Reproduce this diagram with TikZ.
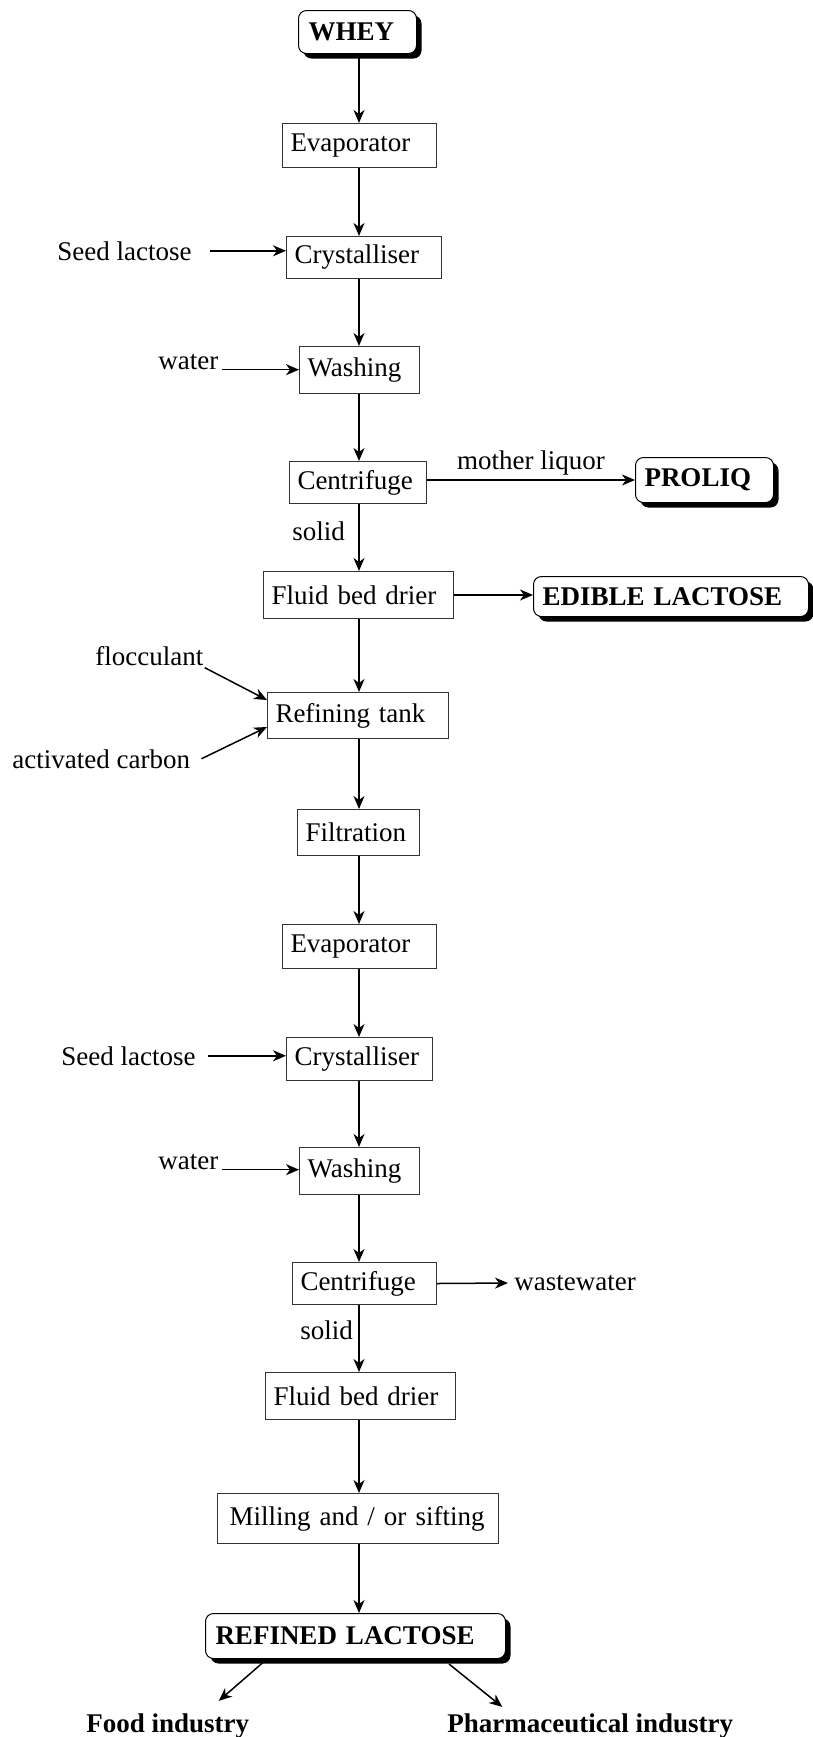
\documentclass[tikz,border=0pt]{standalone}
\usepackage{fontspec}
\setmainfont{Liberation Serif}
\usetikzlibrary{arrows.meta,shadows}
\tikzset{
  procbox/.style={draw=black!80,line width=0.5pt,anchor=north west,inner xsep=4pt,inner ysep=0pt,align=left,text width=#1},
  endbox/.style={draw,line width=0.5pt,rounded corners=4pt,anchor=north west,inner xsep=5pt,inner ysep=0pt,align=left,text width=#1,fill=white,font=\fontsize{13.5}{16}\selectfont\bfseries,
    drop shadow={shadow xshift=2.5pt,shadow yshift=-2.5pt,fill=black,opacity=1}},
  lbl/.style={inner sep=0pt,anchor=base west},
  flow/.style={line width=0.75pt,-{Stealth[length=6.5pt,width=5.5pt,inset=2pt]}}
}
\begin{document}
\begin{tikzpicture}[x=0.5pt,y=-0.5pt,font=\fontsize{13.5}{16}\selectfont]
\useasboundingbox (0,0) rectangle (813,1737);
\coordinate (col) at (359,0);
% main line
\node[endbox=49pt,minimum height=21.5pt] (whey) at (298,10) {WHEY};
\node[procbox=69pt,minimum height=22pt] (evapA) at (282,123) {Evaporator};
\node[procbox=69.5pt,minimum height=21pt] (crystA) at (286,236) {Crystalliser};
\node[procbox=52pt,minimum height=23.5pt] (washA) at (299,346) {Washing};
\node[procbox=60.5pt,minimum height=21pt] (centrA) at (289,461) {Centrifuge};
\node[procbox=87pt,minimum height=23.5pt] (fbdA) at (263,571) {Fluid bed drier};
\node[procbox=82.5pt,minimum height=23pt] (refin) at (267,692) {Refining tank};
\node[procbox=53pt,minimum height=23pt] (filt) at (297,809) {Filtration};
\node[procbox=69pt,minimum height=22pt] (evapB) at (282,924) {Evaporator};
\node[procbox=65pt,minimum height=21.5pt] (crystB) at (286,1037) {Crystalliser};
\node[procbox=52pt,minimum height=23.5pt] (washB) at (299,1147) {Washing};
\node[procbox=64pt,minimum height=21pt] (centrB) at (292,1262) {Centrifuge};
\node[procbox=87pt,minimum height=23.5pt] (fbdB) at (265,1372) {Fluid bed drier};
\node[procbox=128.5pt,inner xsep=6pt,minimum height=25pt] (mill) at (217,1493) {Milling and / or sifting};
\node[endbox=140pt,minimum height=22.5pt] (refined) at (205,1613) {REFINED LACTOSE};
\foreach \a/\b in {whey/evapA,evapA/crystA,crystA/washA,washA/centrA,centrA/fbdA,fbdA/refin,refin/filt,filt/evapB,evapB/crystB,crystB/washB,washB/centrB,centrB/fbdB,fbdB/mill,mill/refined}
  \draw[flow] (col |- \a.south) -- (col |- \b.north);
% side streams
\node[endbox=60pt,inner xsep=4.5pt,minimum height=22.5pt] (proliq) at (635,457) {PROLIQ};
\node[endbox=128.5pt,inner xsep=4.5pt,minimum height=20pt] (edible) at (533,576) {EDIBLE LACTOSE};
\draw[flow] (proliq.west -| centrA.east) -- node[above=2pt,inner sep=0pt] {mother liquor} (proliq.west);
\draw[flow] (fbdA.east) -- (fbdA.east -| edible.west);
\node[lbl] (seedA) at (57,260) {Seed lactose};
\draw[flow] ([xshift=9pt]seedA.east) -- (seedA.east -| crystA.west);
\node[lbl] (waterA) at (158,369) {water};
\draw[flow] ([xshift=1.5pt]waterA.south east) -- (waterA.south east -| washA.west);
\node[lbl] at (292,540) {solid};
\node[lbl] (floc) at (95,665) {flocculant};
\node[lbl] (actc) at (12,768) {activated carbon};
\draw[flow] ([xshift=0.5pt,yshift=-1pt]floc.south east) -- ([yshift=-4pt]refin.north west);
\draw[flow] ([xshift=5.5pt]actc.east) -- ([yshift=6pt]refin.south west);
\node[lbl] (seedB) at (61,1065) {Seed lactose};
\draw[flow] ([xshift=6pt]seedB.east) -- (seedB.east -| crystB.west);
\node[lbl] (waterB) at (158,1169) {water};
\draw[flow] ([xshift=1.5pt]waterB.south east) -- (waterB.south east -| washB.west);
\node[inner sep=0pt,anchor=west] (waste) at (514,1283) {wastewater};
\draw[flow] (centrB.east) -- ([xshift=-3pt]waste.west);
\node[lbl] at (300,1339) {solid};
% uses
\node[lbl,font=\fontsize{13.5}{16}\selectfont\bfseries] (food) at (86,1732) {Food industry};
\node[lbl,font=\fontsize{13.5}{16}\selectfont\bfseries] (pharma) at (447,1732) {Pharmaceutical industry};
\draw[flow] ([xshift=31pt]refined.south west) -- ([xshift=25.5pt,yshift=6pt]food.north);
\draw[flow] ([xshift=-28.5pt,yshift=-2.5pt]refined.south east) -- ([xshift=-44pt,yshift=3pt]pharma.north);
\end{tikzpicture}
\end{document}
